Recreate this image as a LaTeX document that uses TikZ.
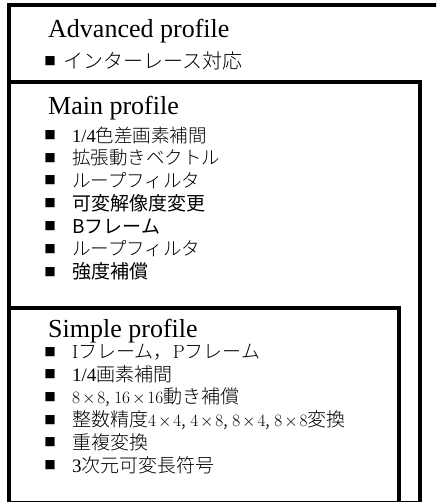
\documentclass[tikz,border=0pt]{standalone}
\usepackage{fontspec}
\setmainfont{Liberation Serif}
\newfontfamily\cjk{Noto Sans CJK JP}
\newfontfamily\cjkl{Noto Sans CJK JP Light}
\newfontfamily\lmr{Latin Modern Roman}
\newcommand{\bx}[2]{$\medmuskip=2mu #1\times#2$}
\tikzset{
  profbox/.style={line width=4pt, fill=white, draw=black},
  title/.style={anchor=base west, inner sep=0pt, font=\fontsize{26}{30}\selectfont},
  bul/.style={anchor=center, inner sep=0pt, font=\cjk\fontsize{11.5}{12}\selectfont},
  mitem/.style={anchor=west, inner sep=0pt, font=\cjkl\fontsize{18.5}{20}\selectfont},
  gitem/.style={anchor=west, inner sep=0pt, font=\cjk\fontsize{19}{20}\selectfont},
  sitem/.style={anchor=west, inner sep=0pt, font=\cjkl\fontsize{19}{20}\selectfont},
  aitem/.style={anchor=west, inner sep=0pt, font=\cjkl\fontsize{20}{20}\selectfont},
}
\begin{document}
\begin{tikzpicture}[x=1pt, y=-1pt]
\useasboundingbox (0,0) rectangle (436,502);
\clip (0,0) rectangle (436,502);
% boxes
\draw[profbox] (9,5) rectangle (445,510);
\draw[profbox] (9,82) rectangle (420,502.5);
\draw[profbox] (9,308) rectangle (399,502.5);
% Advanced
\node[title] (adv) at (48,38) {Advanced profile};
\node[bul] (ab1) at (50,61) {■};
\node[aitem] (a1) at (63,61) {インターレース対応};
% Main
\node[title] (main) at (48,115) {Main profile};
\node[bul] (mb1) at (50,135) {■};
\node[mitem] (m1) at (72,135) {{\rmfamily 1/4}色差画素補間};
\node[bul] (mb2) at (50,157.8) {■};
\node[mitem] (m2) at (72,157.8) {拡張動きベクトル};
\node[bul] (mb3) at (50,180.6) {■};
\node[mitem] (m3) at (72,180.6) {ループフィルタ};
\node[bul] (mb4) at (50,203.4) {■};
\node[gitem] (m4) at (72,203.4) {可変解像度変更};
\node[bul] (mb5) at (50,226.2) {■};
\node[gitem] (m5) at (72,226.2) {Bフレーム};
\node[bul] (mb6) at (50,249) {■};
\node[mitem] (m6) at (72,249) {ループフィルタ};
\node[bul] (mb7) at (50,271.8) {■};
\node[gitem] (m7) at (72,271.8) {強度補償};
% Simple
\node[title] (simple) at (48,337) {Simple profile};
\node[bul] (sb1) at (50,352) {■};
\node[sitem] (s1) at (72,352) {{\lmr I}フレーム，{\lmr P}フレーム};
\node[bul] (sb2) at (50,374.6) {■};
\node[sitem] (s2) at (72,374.6) {{\rmfamily 1/4}画素補間};
\node[bul] (sb3) at (50,397.2) {■};
\node[sitem] (s3) at (72,397.2) {\bx{8}{8}, \bx{16}{16}動き補償};
\node[bul] (sb4) at (50,419.8) {■};
\node[sitem] (s4) at (72,419.8) {整数精度\bx{4}{4}, \bx{4}{8}, \bx{8}{4}, \bx{8}{8}変換};
\node[bul] (sb5) at (50,442.4) {■};
\node[sitem] (s5) at (72,442.4) {重複変換};
\node[bul] (sb6) at (50,465) {■};
\node[sitem] (s6) at (72,465) {{\rmfamily 3}次元可変長符号};
\end{tikzpicture}
\end{document}
